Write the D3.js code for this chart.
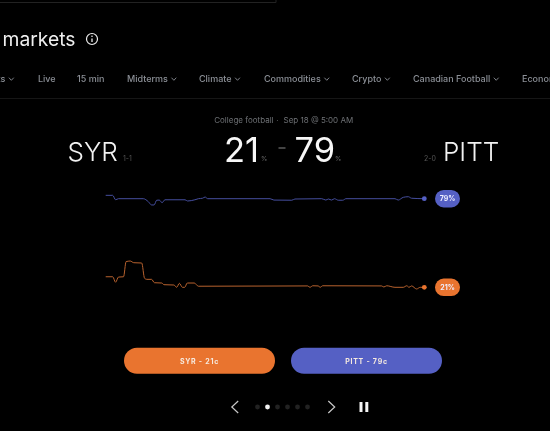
<!DOCTYPE html>
<html><head><meta charset="utf-8">
<script src="https://cdn.jsdelivr.net/npm/d3@7"></script>
<style>html,body{margin:0;padding:0;background:#000;overflow:hidden}svg{display:block;filter:blur(0.5px)}text{font-family:Inter,"Open Sans",sans-serif}</style>
</head><body><svg id="c" width="550" height="431"></svg>
<script>
const teams = ["SYR", "PITT"];
const records = ["1-1", "2-0"];
const finalPct = [21, 79];
const navItems = ["ts", "Live", "15 min", "Midterms", "Climate", "Commodities", "Crypto", "Canadian Football", "Econor"];
const navX = [-2.5, 38, 77, 127, 199, 264, 352, 413, 522];
const navChevron = [true, false, false, true, true, true, true, true, false];
const pittTime = [0,2.2,3.1,4,11.8,13.4,14.4,15.2,16,16.8,17.7,18.6,24.9,25.7,28,29.1,30.4,31.2,32,51.6,52.8,58.4,59.4,67.8,69.1,69.9,70.9,71.8,73,74.4,75.4,90.8,91.8,93.4,95,96,100];
const pittValues = [81.2,81.2,78.3,79,79,77,74.9,74.9,78,78.1,76.4,78.3,78.3,77.5,78.3,79,79.3,80.1,79,79,78.1,78,78.8,79,78.1,78.8,78.1,79,78,78,79,79,78.1,79.9,80.3,79.3,79];
const syrTime = [0,2.2,3.1,4,5.6,6.4,7.7,8.8,11.3,12.2,12.9,14.4,15.3,17.6,18.3,21.4,22.3,23.1,24.1,24.8,25.6,27.8,29.1,63.4,64.1,65,66.7,67.3,68.1,86.6,87.3,88.2,90.8,93.4,94.5,95.2,96,97.6,98.7,100];
const syrValues = [27.9,27.9,24.3,27.7,27.9,37.8,38.2,37.1,36.9,26.9,26.2,26.2,24,23.8,22.7,22.5,21,23.6,21,21,23.8,23.8,21.7,21.9,21,22,21.9,21,22,21.9,21.2,22,21,21,22,21,21.9,19.9,21,21];

const ORANGE = "#e9742f", BLUE = "#5560c4";
const svg = d3.select("#c");
const x = d3.scaleLinear().domain([0, 100]).range([105.7, 424.3]);
const y = d3.scaleLinear().domain([21, 79]).range([287.3, 198.7]);
const line = d3.line().x(d => x(d[0])).y(d => y(d[1])).curve(d3.curveMonotoneX);

function txt(px, py, s, size, fill, weight, anchor) {
  return svg.append("text").attr("x", px).attr("y", py).attr("font-size", size)
    .attr("fill", fill).attr("font-weight", weight || 400).attr("text-anchor", anchor || "start").text(s);
}
function chevron(cx, cy, w, h, dir, stroke, sw) {
  const pts = dir === "down" ? [[cx - w, cy - h], [cx, cy + h], [cx + w, cy - h]]
    : dir === "left" ? [[cx + w, cy - h], [cx - w, cy], [cx + w, cy + h]]
    : [[cx - w, cy - h], [cx + w, cy], [cx - w, cy + h]];
  svg.append("path").attr("d", d3.line()(pts)).attr("fill", "none").attr("stroke", stroke).attr("stroke-width", sw);
}

// page chrome
svg.append("line").attr("x1", 0).attr("x2", 276).attr("y1", 2.5).attr("y2", 2.5).attr("stroke", "#222");
svg.append("line").attr("x1", 276).attr("x2", 276).attr("y1", 0).attr("y2", 2.5).attr("stroke", "#222");
txt(2.5, 45.5, "markets", 19.3, "#f0f0f0", 400);
svg.append("circle").attr("cx", 92).attr("cy", 39).attr("r", 5.5).attr("fill", "none").attr("stroke", "#eee").attr("stroke-width", 1.2);
svg.append("line").attr("x1", 92).attr("x2", 92).attr("y1", 38.5).attr("y2", 42).attr("stroke", "#eee").attr("stroke-width", 1.3);
svg.append("circle").attr("cx", 92).attr("cy", 36.2).attr("r", 0.8).attr("fill", "#eee");

navItems.forEach((n, i) => {
  const t = txt(navX[i], 82, n, 9, "#8b8f96", 500);
  if (navChevron[i]) {
    const w = t.node().getComputedTextLength();
    chevron(navX[i] + w + 6, 79, 2.4, 1.3, "down", "#8b8f96", 0.9);
  }
});
svg.append("line").attr("x1", 0).attr("x2", 550).attr("y1", 98.5).attr("y2", 98.5).attr("stroke", "#161616");

// header
txt(273.5, 123, "College football", 8, "#6f7276", 400, "end");
txt(277.5, 123, "·", 8, "#6f7276", 400, "middle");
txt(283.5, 123, "Sep 18 @ 5:00 AM", 8, "#6f7276");
txt(67.5, 161, teams[0], 26, "#f2f2f2", 300);
txt(123, 160.5, records[0], 7, "#555");
txt(224, 161.5, finalPct[0], 34.5, "#f7f7f7", 400);
txt(261, 161, "%", 6.5, "#666");
svg.append("line").attr("x1", 278.5).attr("x2", 285.5).attr("y1", 148).attr("y2", 148).attr("stroke", "#888").attr("stroke-width", 1);
txt(294.5, 161.5, finalPct[1], 34.5, "#f7f7f7", 400);
txt(335, 161, "%", 6.5, "#666");
txt(424, 160.5, records[1], 7, "#555");
txt(443, 161, teams[1], 26, "#f2f2f2", 300);

// series
const series = [
  { t: pittTime, v: pittValues, c: BLUE, stroke: "#454e9e", pct: finalPct[1] },
  { t: syrTime, v: syrValues, c: ORANGE, stroke: "#b8622e", pct: finalPct[0] }
];
series.forEach(s => {
  svg.append("path").datum(s.t.map((d, i) => [d, s.v[i]])).attr("d", line)
    .attr("fill", "none").attr("stroke", s.stroke).attr("stroke-width", 1);
  const last = s.v.length - 1;
  svg.append("circle").attr("cx", x(s.t[last])).attr("cy", y(s.v[last])).attr("r", 2.4).attr("fill", s.c);
  const py = y(s.pct);
  svg.append("rect").attr("x", 435).attr("y", py - 8.7).attr("width", 25).attr("height", 17.4).attr("rx", 8.7).attr("fill", s.c);
  txt(447.5, py + 2.6, s.pct + "%", 7, "#eef", 700, "middle");
});

// buttons
[[124, ORANGE, 0], [291, BLUE, 1]].forEach(([bx, c, i]) => {
  svg.append("rect").attr("x", bx).attr("y", 347.7).attr("width", 151).attr("height", 26).attr("rx", 13).attr("fill", c);
  txt(bx + 75.5, 363.5, teams[i] + " - " + finalPct[i] + "c", 7, "#f6eadf", 700, "middle").attr("letter-spacing", 0.75);
});

// carousel
chevron(235, 407, 3.2, 6, "left", "#c8c8c8", 1.2);
chevron(331.5, 407, 3.2, 6, "right", "#c8c8c8", 1.2);
d3.range(6).forEach(i => {
  svg.append("circle").attr("cx", 257.5 + i * 10).attr("cy", 407).attr("r", 2.4)
    .attr("fill", i === 1 ? "#f2f2f2" : "#222");
});
[359.5, 365.3].forEach(bx => svg.append("rect").attr("x", bx).attr("y", 402).attr("width", 3).attr("height", 10).attr("fill", "#f4f4f4"));
</script></body></html>
